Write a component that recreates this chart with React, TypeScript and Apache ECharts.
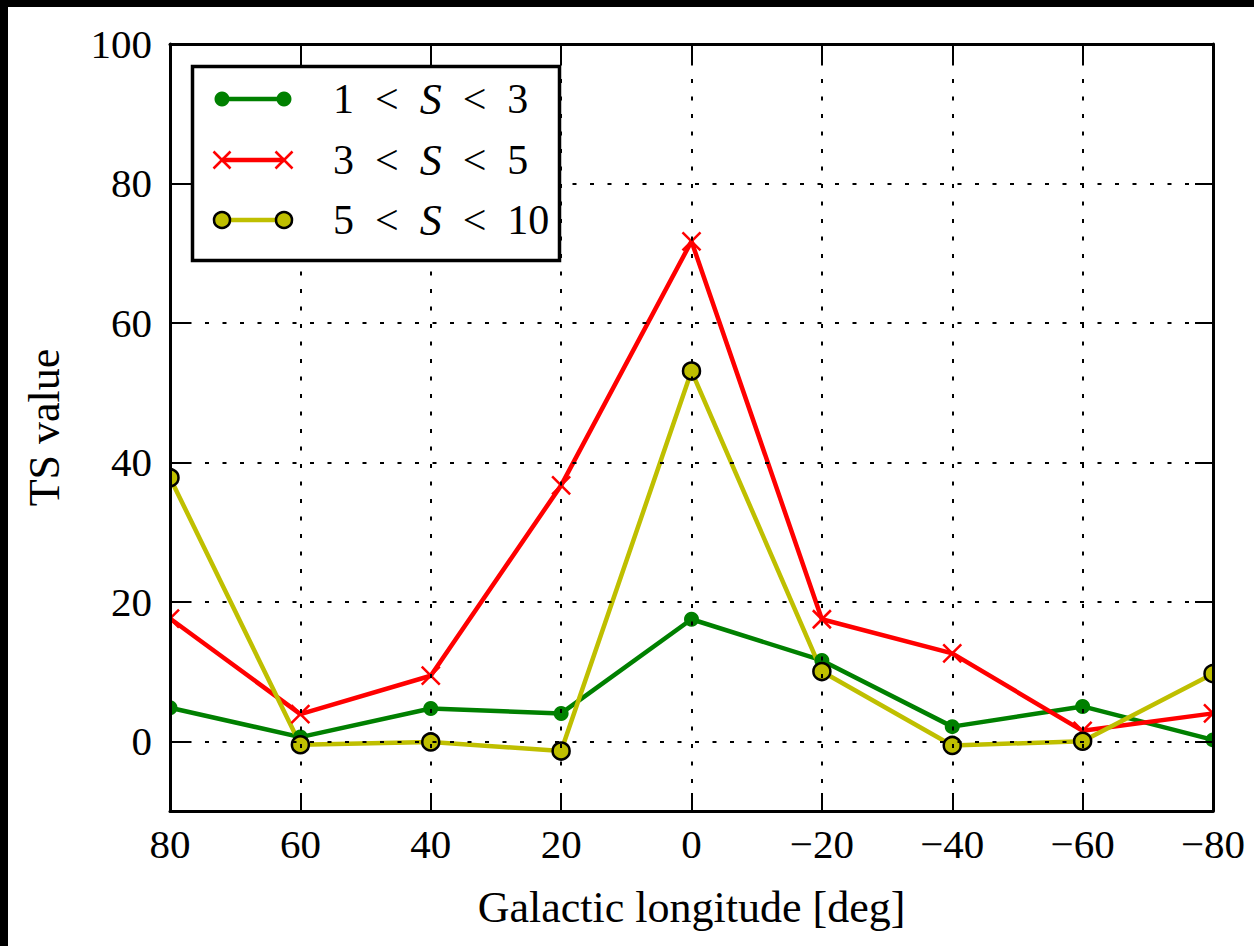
import React, { useEffect, useRef } from 'react';
import * as echarts from 'echarts';

// ---- data ----
const longitudes = [80, 60, 40, 20, 0, -20, -40, -60, -80];
const ts1to3 = [4.8, 0.6, 4.7, 4.0, 17.5, 11.6, 2.1, 5.0, 0.2];
const ts3to5 = [17.6, 3.9, 9.4, 36.7, 71.7, 17.5, 12.6, 1.5, 4.0];
const ts5to10 = [37.8, -0.5, -0.1, -1.4, 53.1, 10.0, -0.6, 0.0, 9.7];
const legendLow = ['1', '3', '5'];
const legendHigh = ['3', '5', '10'];
const seriesNames = ['1 < S < 3', '3 < S < 5', '5 < S < 10'];
const yTicks = [0, 20, 40, 60, 80, 100];
const xMin = -80;
const xMax = 80;
const xStep = 20;
const yMin = -10;
const yMax = 100;

const FONT = 'Liberation Serif';
const GREEN = '#008000';
const RED = '#ff0000';
const YELLOW = '#bfbf00';
const LINE_W = 4.5;

const fmtTick = (v: number) => (v < 0 ? '\u2212' + Math.abs(v) : String(v));

const X_PATH = 'path://M0,0L10,10M10,0L0,10';

export default function App() {
  const ref = useRef<HTMLDivElement>(null);

  useEffect(() => {
    if (!ref.current) return;
    const chart = echarts.init(ref.current, undefined, { renderer: 'svg' });

    const colors = [GREEN, RED, YELLOW];

    const axisLine = { show: true, onZero: false, lineStyle: { color: '#000', width: 3 } };
    const tickStyle = { color: '#000', width: 2 };

    // legend (drawn as graphic)
    const rowY = [99, 160, 220];
    const lx1 = 222;
    const lx2 = 284;
    const legendEls: any[] = [
      {
        type: 'rect',
        shape: { x: 192.5, y: 66.5, width: 367, height: 194 },
        style: { fill: '#fff', stroke: '#000', lineWidth: 3.5 },
        z: 20,
      },
    ];
    seriesNames.forEach((_, i) => {
      const y = rowY[i];
      legendEls.push({
        type: 'line',
        shape: { x1: lx1, y1: y, x2: lx2, y2: y },
        style: { stroke: colors[i], lineWidth: LINE_W },
        z: 21,
      });
      [lx1, lx2].forEach((cx) => {
        if (i === 0) {
          legendEls.push({ type: 'circle', shape: { cx, cy: y, r: 7.5 }, style: { fill: GREEN }, z: 22 });
        } else if (i === 1) {
          legendEls.push({
            type: 'line',
            shape: { x1: cx - 8.5, y1: y - 8.5, x2: cx + 8.5, y2: y + 8.5 },
            style: { stroke: RED, lineWidth: 2.5 },
            z: 22,
          });
          legendEls.push({
            type: 'line',
            shape: { x1: cx - 8.5, y1: y + 8.5, x2: cx + 8.5, y2: y - 8.5 },
            style: { stroke: RED, lineWidth: 2.5 },
            z: 22,
          });
        } else {
          legendEls.push({
            type: 'circle',
            shape: { cx, cy: y, r: 8 },
            style: { fill: YELLOW, stroke: '#000', lineWidth: 2.5 },
            z: 22,
          });
        }
      });
      legendEls.push({
        type: 'text',
        x: 333,
        y: y,
        z: 22,
        style: {
          text: `{n|${legendLow[i]}\u2002<\u2002}{s|S}{n|\u2002<\u2002${legendHigh[i]}}`,
          rich: {
            n: { fontFamily: FONT, fontSize: 42, fill: '#000' },
            s: { fontFamily: FONT, fontSize: 44, fontStyle: 'italic', fill: '#000' },
          },
          verticalAlign: 'middle',
          align: 'left',
        },
      });
    });

    const option: any = {
      animation: false,
      backgroundColor: '#ffffff',
      textStyle: { fontFamily: FONT },
      grid: {
        left: 170,
        right: 41,
        top: 44,
        bottom: 135,
        containLabel: false,
        outerBoundsMode: 'none',
      },
      xAxis: [
        {
          type: 'value',
          min: xMin,
          max: xMax,
          interval: xStep,
          inverse: true,
          position: 'bottom',
          z: 10,
          axisLine,
          axisTick: { show: true, inside: true, length: 18, lineStyle: tickStyle },
          axisLabel: { margin: 12, fontFamily: FONT, fontSize: 41, color: '#000', formatter: fmtTick },
          splitLine: { show: true, lineStyle: { color: '#000', width: 2, type: [4, 13.5] } },
          name: 'Galactic longitude [deg]',
          nameLocation: 'middle',
          nameGap: 74,
          nameTextStyle: { fontFamily: FONT, fontSize: 44, color: '#000' },
        },
        {
          type: 'value',
          min: xMin,
          max: xMax,
          interval: xStep,
          inverse: true,
          position: 'top',
          z: 10,
          axisLine,
          axisTick: { show: true, inside: true, length: 18, lineStyle: tickStyle },
          axisLabel: { show: false },
          splitLine: { show: false },
        },
      ],
      yAxis: [
        {
          type: 'value',
          min: yMin,
          max: yMax,
          position: 'left',
          z: 10,
          axisLine,
          axisTick: { show: true, inside: true, length: 18, lineStyle: tickStyle, customValues: yTicks },
          axisLabel: {
            margin: 18,
            fontFamily: FONT,
            fontSize: 41,
            color: '#000',
            customValues: yTicks,
            formatter: fmtTick,
          },
          splitLine: { show: true, lineStyle: { color: '#000', width: 2, type: [4, 13.5] } },
          name: 'TS value',
          nameLocation: 'middle',
          nameGap: 104,
          nameTextStyle: { fontFamily: FONT, fontSize: 44, color: '#000' },
        },
        {
          type: 'value',
          min: yMin,
          max: yMax,
          position: 'right',
          z: 10,
          axisLine,
          axisTick: { show: true, inside: true, length: 18, lineStyle: tickStyle, customValues: yTicks },
          axisLabel: { show: false, customValues: yTicks },
          splitLine: { show: false },
        },
      ],
      series: [
        {
          name: seriesNames[0],
          type: 'line',
          xAxisIndex: 0,
          yAxisIndex: 0,
          clip: false,
          data: longitudes.map((x, i) => [x, ts1to3[i]]),
          lineStyle: { color: GREEN, width: LINE_W },
          symbol: 'circle',
          symbolSize: 15,
          itemStyle: { color: GREEN, borderWidth: 0 },
        },
        {
          name: seriesNames[1],
          type: 'line',
          xAxisIndex: 0,
          yAxisIndex: 0,
          clip: false,
          data: longitudes.map((x, i) => [x, ts3to5[i]]),
          lineStyle: { color: RED, width: LINE_W },
          symbol: X_PATH,
          symbolSize: 18,
          itemStyle: { color: 'none', borderColor: RED, borderWidth: 2.5 },
        },
        {
          name: seriesNames[2],
          type: 'line',
          xAxisIndex: 0,
          yAxisIndex: 0,
          clip: false,
          data: longitudes.map((x, i) => [x, ts5to10[i]]),
          lineStyle: { color: YELLOW, width: LINE_W },
          symbol: 'circle',
          symbolSize: 17,
          itemStyle: { color: YELLOW, borderColor: '#000', borderWidth: 2.5 },
        },
      ],
      graphic: [
        // masks that clip markers sticking out of the plot area
        { type: 'rect', shape: { x: 8, y: 7, width: 161, height: 939 }, style: { fill: '#fff' }, z: 5, silent: true },
        { type: 'rect', shape: { x: 1213, y: 7, width: 41, height: 939 }, style: { fill: '#fff' }, z: 5, silent: true },
        ...legendEls,
        // black frame at the top and left edges
        { type: 'rect', shape: { x: 0, y: 0, width: 1254, height: 7 }, style: { fill: '#000' }, z: 50, silent: true },
        { type: 'rect', shape: { x: 0, y: 0, width: 8, height: 946 }, style: { fill: '#000' }, z: 50, silent: true },
      ],
    };

    chart.setOption(option);
    return () => chart.dispose();
  }, []);

  return (
    <div ref={ref} style={{ position: 'fixed', left: 0, top: 0, width: 1254, height: 946, background: '#fff' }} />
  );
}
